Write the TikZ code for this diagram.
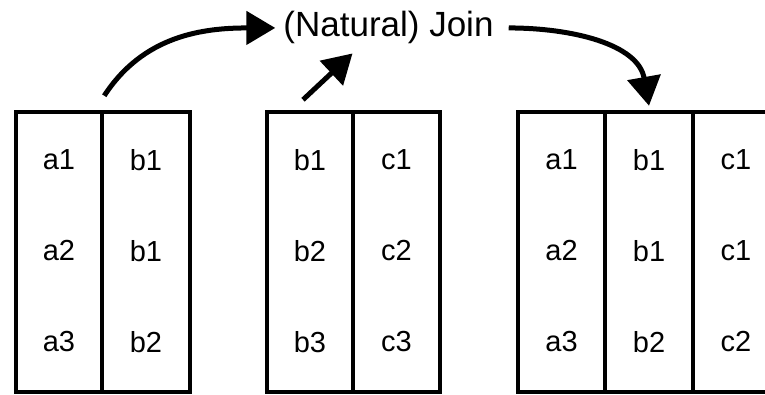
\documentclass[tikz,border=0pt]{standalone}
\usepackage{fontspec}
\setmainfont{Liberation Sans}
\usetikzlibrary{arrows.meta}
\begin{document}
\begin{tikzpicture}[x=1pt,y=-1pt,
  colbox/.style={draw, line width=4.5pt, minimum height=280pt, inner sep=0pt},
  cell/.style={font=\fontsize{29}{30}\selectfont, inner sep=0pt},
  lbl/.style={font=\fontsize{35}{40}\selectfont, inner sep=0pt},
  conn/.style={line width=5pt, -{Triangle[length=29pt,width=33pt]}}]
\fill[white] (0,0) rectangle (765,395);
\useasboundingbox (0,0) rectangle (765,395);
\clip (0,0) rectangle (765,395);
% left table
\node[colbox, minimum width=86pt] (L1) at (59,252) {};
\node[colbox, minimum width=88pt] (L2) at (146,252) {};
% middle table
\node[colbox, minimum width=86pt] (M1) at (310,252) {};
\node[colbox, minimum width=87pt] (M2) at (396.5,252) {};
% right table
\node[colbox, minimum width=87pt] (R1) at (561.5,252) {};
\node[colbox, minimum width=88pt] (R2) at (649,252) {};
\node[colbox, minimum width=120pt] (R3) at (753,252) {};
% cell texts
\foreach \x/\n/\a/\b/\c in {59/l1/a1/a2/a3, 146/l2/b1/b1/b2, 310/m1/b1/b2/b3, 396.5/m2/c1/c2/c3,
  561.5/r1/a1/a2/a3, 649/r2/b1/b1/b2, 736/r3/c1/c1/c2}{
  \node[cell] (\n a) at (\x,160) {\a};
  \node[cell] (\n b) at (\x,251) {\b};
  \node[cell] (\n c) at (\x,342) {\c};
}
% label
\node[lbl, anchor=base] (join) at (388.5,37) {(Natural) Join};
% connectors
\draw[conn] ([yshift=14pt]L1.north east) to[out=57,in=180] ([xshift=-8pt]join.west);
\draw[conn] ([xshift=-7pt,yshift=10pt]M1.north) -- ([xshift=-36pt,yshift=-9pt]join.south);
\draw[conn] ([xshift=15pt]join.east) to[out=0,in=100] ([yshift=4pt]R2.north);
\end{tikzpicture}
\end{document}
